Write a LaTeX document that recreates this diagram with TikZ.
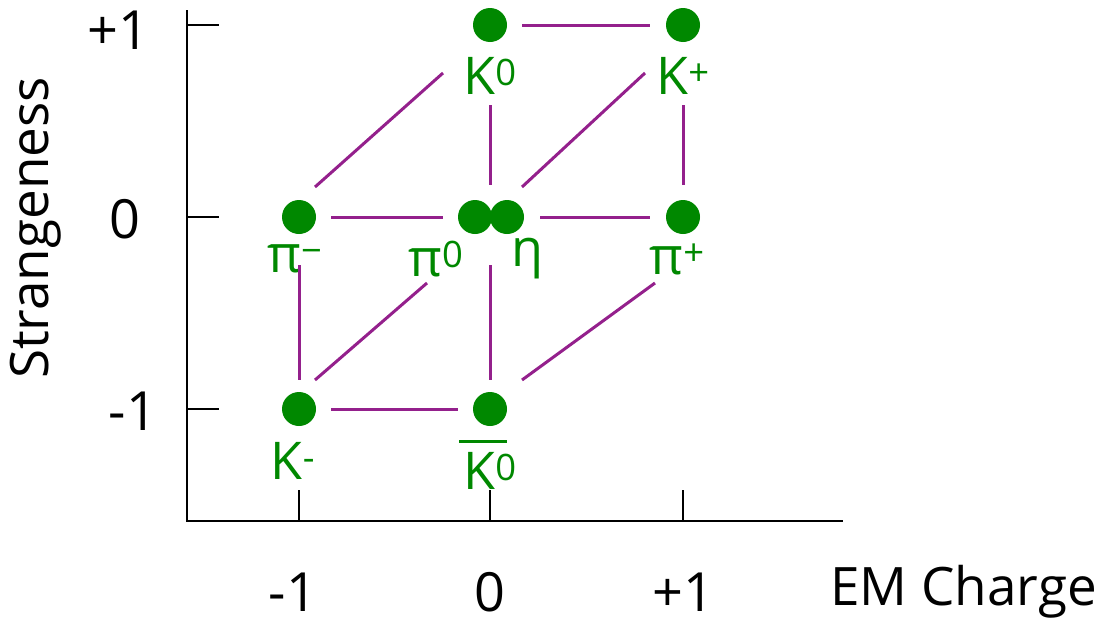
\documentclass[tikz,border=0pt]{standalone}
\usepackage{fontspec}
\setmainfont{Open Sans}
\definecolor{dotgreen}{RGB}{0,136,0}
\definecolor{linepurple}{RGB}{148,32,140}
\begin{document}
\begin{tikzpicture}[x=1pt,y=-1pt,
  dot/.style={circle,fill=dotgreen,minimum size=34pt,inner sep=0pt},
  lbl/.style={text=dotgreen,font=\fontsize{52}{56}\selectfont,inner sep=0pt},
  ax/.style={black,line width=2pt},
  tk/.style={font=\fontsize{54}{58}\selectfont,inner sep=0pt},
  axl/.style={font=\fontsize{53}{57}\selectfont,inner sep=0pt},
  cub/.style={linepurple,line width=3pt}]
\useasboundingbox (0,0) rectangle (1105,624);
% axes
\coordinate (o) at (187,521);
\coordinate (ytop) at (187,10);
\coordinate (xend) at (843,521);
\draw[ax] (ytop) -- (o) -- (xend);
\foreach \y/\n in {25/a,217/b,409/c} {
  \coordinate (yt\n) at (187,\y);
  \coordinate (yu\n) at (219,\y);
  \draw[ax] (yt\n) -- (yu\n);
}
\foreach \x/\n in {299/a,490/b,683/c} {
  \coordinate (xt\n) at (\x,521);
  \coordinate (xu\n) at (\x,490);
  \draw[ax] (xt\n) -- (xu\n);
}
\node[tk] (lp1) at (118,30) {+1};
\node[tk] (l0) at (125,219) {0};
\node[tk] (lm1) at (133,411) {-1};
\node[tk] (bm1) at (293,592) {-1};
\node[tk] (b0) at (490,592) {0};
\node[tk] (bp1) at (683,592) {+1};
\node[axl,rotate=90] (ylab) at (36,228) {Strangeness};
\node[axl,anchor=east] (xlab) at (1097,592) {EM Charge};
% dots
\node[dot] (k0) at (490,25) {};
\node[dot] (kp) at (683,25) {};
\node[dot] (pim) at (299,217) {};
\node[dot] (pi0) at (475,217) {};
\node[dot] (eta) at (507,217) {};
\node[dot] (pip) at (683,217) {};
\node[dot] (km) at (299,409) {};
\node[dot] (k0b) at (490,409) {};
% labels
\node[lbl] (tk0) at (490,76) {K\textsuperscript{0}};
\node[lbl] (tkp) at (683,76) {K\textsuperscript{+}};
\node[lbl] (tpim) at (295,259) {π\textsuperscript{−}};
\node[lbl] (tpi0) at (436,259) {π\textsuperscript{0}};
\node[lbl] (teta) at (527,259) {η};
\node[lbl] (tpip) at (677,259) {π\textsuperscript{+}};
\node[lbl] (tkm) at (293,461) {K\textsuperscript{-}};
\node[lbl] (tk0b) at (490,471) {K\textsuperscript{0}};
\coordinate (ob1) at (459,441);
\coordinate (ob2) at (507,441);
\draw[dotgreen,line width=3pt] (ob1) -- (ob2);
% cube lines
\coordinate (a1) at (522,25); \coordinate (a2) at (650,25);
\coordinate (b1) at (443,73); \coordinate (b2) at (315,187);
\coordinate (c1) at (645,73); \coordinate (c2) at (522,187);
\coordinate (d1) at (490,105); \coordinate (d2) at (490,185);
\coordinate (e1) at (683,105); \coordinate (e2) at (683,185);
\coordinate (f1) at (331,217); \coordinate (f2) at (443,217);
\coordinate (g1) at (540,217); \coordinate (g2) at (650,217);
\coordinate (h1) at (299,265); \coordinate (h2) at (299,380);
\coordinate (i1) at (490,265); \coordinate (i2) at (490,380);
\coordinate (j1) at (427,283); \coordinate (j2) at (315,380);
\coordinate (k1) at (655,283); \coordinate (k2) at (522,380);
\coordinate (l1) at (331,409); \coordinate (l2) at (458,409);
\foreach \p in {a,b,c,d,e,f,g,h,i,j,k,l} \draw[cub] (\p1) -- (\p2);
\end{tikzpicture}
\end{document}
